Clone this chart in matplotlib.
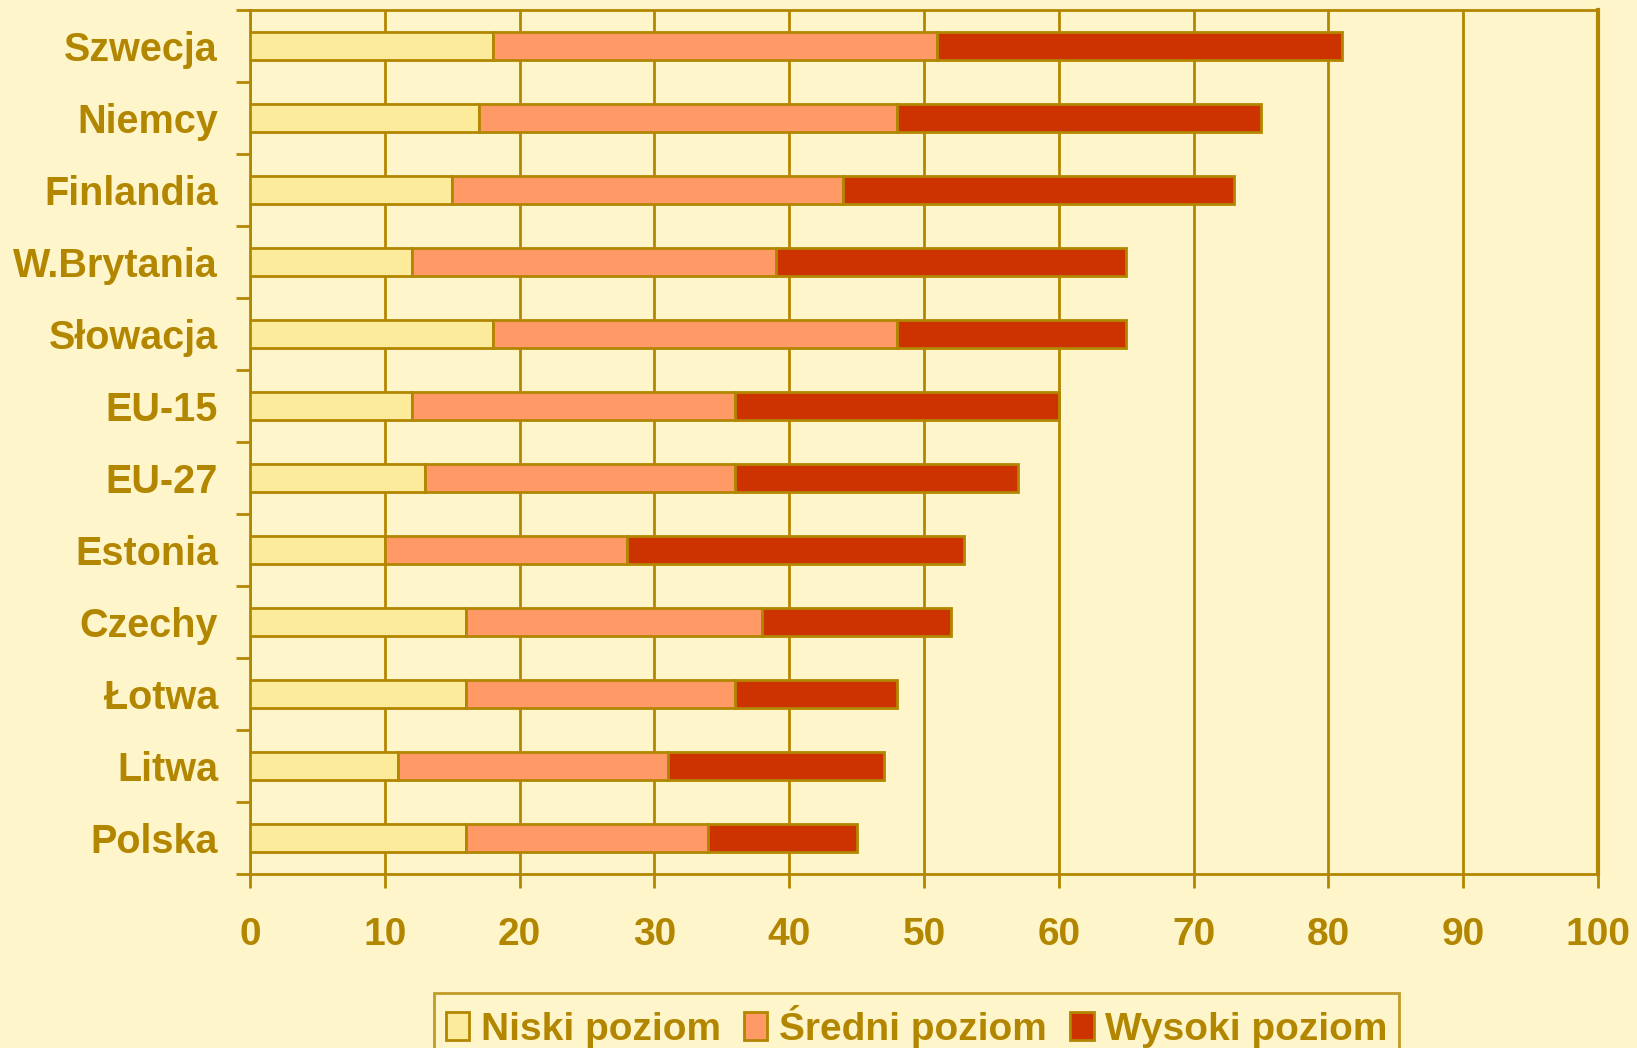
import numpy as np
import matplotlib
matplotlib.use("Agg")
import matplotlib.pyplot as plt
from matplotlib.ticker import FixedLocator

plt.rcParams['font.family'] = ['Liberation Sans', 'DejaVu Sans']
plt.rcParams['font.weight'] = 'bold'

# data (top to bottom)
countries = ["Szwecja", "Niemcy", "Finlandia", "W.Brytania", "Słowacja", "EU-15",
             "EU-27", "Estonia", "Czechy", "Łotwa", "Litwa", "Polska"]
niski = [18, 17, 15, 12, 18, 12, 13, 10, 16, 16, 11, 16]
sredni = [33, 31, 29, 27, 30, 24, 23, 18, 22, 20, 20, 18]
wysoki = [30, 27, 29, 26, 17, 24, 21, 25, 14, 12, 16, 11]
series_names = ["Niski poziom", "Średni poziom", "Wysoki poziom"]
x_ticks = [0, 10, 20, 30, 40, 50, 60, 70, 80, 90, 100]

bg = "#FFF5CA"
gold = "#B38600"
colors = ["#FDEB9C", "#FF9966", "#CC3300"]

fig = plt.figure(figsize=(16.37, 10.48), dpi=100, facecolor=bg)
ax = fig.add_axes([0.1527, 0.166, 0.8235, 0.8245], facecolor=bg)

y = np.arange(len(countries))
left = np.zeros(len(countries))
for vals, name, c in zip([niski, sredni, wysoki], series_names, colors):
    ax.barh(y, vals, left=left, height=0.4, color=c, edgecolor=gold,
            linewidth=2, label=name, zorder=3)
    left += np.array(vals)

ax.set_xlim(0, 100)
ax.set_ylim(len(countries) - 0.5, -0.5)
ax.set_xticks(x_ticks)
ax.set_xticklabels([str(t) for t in x_ticks])
ax.grid(axis='x', color=gold, linewidth=2, zorder=0)

ax.set_yticks(y)
ax.set_yticklabels(countries)
ax.yaxis.set_minor_locator(FixedLocator(np.arange(-0.5, len(countries), 1)))
ax.tick_params(axis='y', which='major', length=0, pad=23, labelsize=28.5, labelcolor=gold)
ax.tick_params(axis='y', which='minor', length=10, width=2, color=gold)
ax.tick_params(axis='x', which='major', length=10, width=2, color=gold,
               pad=21, labelsize=28, labelcolor=gold)

for s in ax.spines.values():
    s.set_color(gold)
    s.set_linewidth(2)
ax.spines['right'].set_linewidth(3)

leg = fig.legend(loc='upper center', bbox_to_anchor=(0.56, 0.0525), ncol=3,
                 fontsize=28, frameon=True, fancybox=False, handlelength=0.6,
                 handleheight=0.7, handletextpad=0.3, columnspacing=0.6,
                 borderpad=0.3, borderaxespad=0)
leg.get_frame().set_facecolor(bg)
leg.get_frame().set_edgecolor(gold)
leg.get_frame().set_linewidth(2)
for t in leg.get_texts():
    t.set_color(gold)

fig.savefig("out.png", dpi=100, facecolor=bg)
